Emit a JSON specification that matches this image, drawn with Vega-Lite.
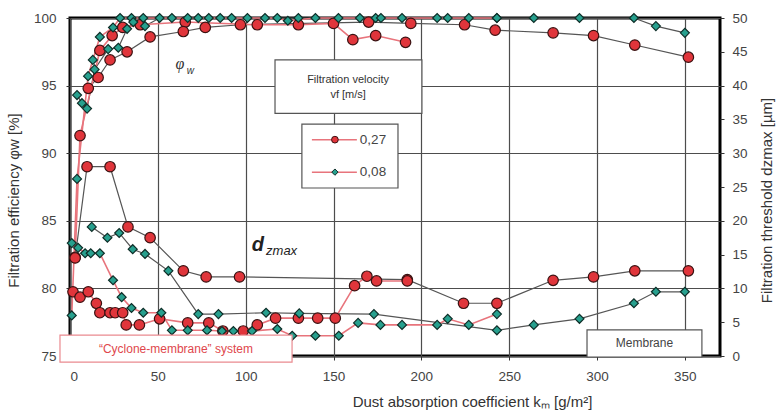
{
"$schema":"https://vega.github.io/schema/vega-lite/v6.json",
"width":650,"height":338,
"autosize":{"type":"none"},
"padding":{"left":70,"top":18,"right":61,"bottom":59},
"background":"white",
"config":{
 "view":{"stroke":"#000","strokeWidth":3},
 "font":"Liberation Sans",
 "axis":{"labelFont":"Liberation Sans","titleFont":"Liberation Sans","labelColor":"#444","titleColor":"#333","labelFontSize":13.5,"titleFontSize":15,"titleFontWeight":"normal","tickColor":"#333","domain":false,"gridColor":"#4d4d4d","gridWidth":1.2,"gridOpacity":1}
},
"datasets":{
 "eff":[
  {"k":2.9,"v":82.3,"s":"c27","sys":"c","vel":"0,27"},{"k":5.7,"v":91.3,"s":"c27","sys":"c","vel":"0,27"},{"k":17,"v":97.6,"s":"c27","sys":"c","vel":"0,27"},{"k":24,"v":98.7,"s":"c27","sys":"c","vel":"0,27"},{"k":30,"v":99.3,"s":"c27","sys":"c","vel":"0,27"},{"k":40,"v":99.5,"s":"c27","sys":"c","vel":"0,27"},{"k":65.6,"v":99.7,"s":"c27","sys":"c","vel":"0,27"},{"k":106.6,"v":99.5,"s":"c27","sys":"c","vel":"0,27"},{"k":130,"v":99.5,"s":"c27","sys":"c","vel":"0,27"},{"k":150,"v":99.6,"s":"c27","sys":"c","vel":"0,27"},{"k":161,"v":98.4,"s":"c27","sys":"c","vel":"0,27"},{"k":174,"v":98.7,"s":"c27","sys":"c","vel":"0,27"},{"k":191,"v":98.2,"s":"c27","sys":"c","vel":"0,27"},
  {"k":10.4,"v":94.8,"s":"m27","sys":"m","vel":"0,27"},{"k":16,"v":95.6,"s":"m27","sys":"m","vel":"0,27"},{"k":22.8,"v":96.9,"s":"m27","sys":"m","vel":"0,27"},{"k":32.5,"v":97.5,"s":"m27","sys":"m","vel":"0,27"},{"k":45.6,"v":98.6,"s":"m27","sys":"m","vel":"0,27"},{"k":64.5,"v":99.0,"s":"m27","sys":"m","vel":"0,27"},{"k":77,"v":99.3,"s":"m27","sys":"m","vel":"0,27"},{"k":97,"v":99.5,"s":"m27","sys":"m","vel":"0,27"},{"k":170,"v":99.7,"s":"m27","sys":"m","vel":"0,27"},{"k":194,"v":99.6,"s":"m27","sys":"m","vel":"0,27"},{"k":224.6,"v":99.5,"s":"m27","sys":"m","vel":"0,27"},{"k":242,"v":99.1,"s":"m27","sys":"m","vel":"0,27"},{"k":275,"v":98.9,"s":"m27","sys":"m","vel":"0,27"},{"k":298,"v":98.7,"s":"m27","sys":"m","vel":"0,27"},{"k":321.5,"v":98.0,"s":"m27","sys":"m","vel":"0,27"},{"k":352,"v":97.1,"s":"m27","sys":"m","vel":"0,27"},
  {"k":1,"v":78.0,"s":"c08","sys":"c","vel":"0,08"},{"k":4,"v":88.1,"s":"c08","sys":"c","vel":"0,08"},{"k":10.3,"v":95.7,"s":"c08","sys":"c","vel":"0,08"},{"k":13,"v":96.9,"s":"c08","sys":"c","vel":"0,08"},{"k":17,"v":98.6,"s":"c08","sys":"c","vel":"0,08"},{"k":24.5,"v":99.3,"s":"c08","sys":"c","vel":"0,08"},{"k":28.5,"v":100,"s":"c08","sys":"c","vel":"0,08"},{"k":35,"v":100,"s":"c08","sys":"c","vel":"0,08"},{"k":41.7,"v":100,"s":"c08","sys":"c","vel":"0,08"},{"k":58,"v":100,"s":"c08","sys":"c","vel":"0,08"},{"k":73,"v":100,"s":"c08","sys":"c","vel":"0,08"},{"k":79,"v":100,"s":"c08","sys":"c","vel":"0,08"},{"k":92,"v":100,"s":"c08","sys":"c","vel":"0,08"},{"k":101,"v":100,"s":"c08","sys":"c","vel":"0,08"},{"k":118,"v":100,"s":"c08","sys":"c","vel":"0,08"},{"k":124,"v":99.8,"s":"c08","sys":"c","vel":"0,08"},{"k":139.7,"v":100,"s":"c08","sys":"c","vel":"0,08"},{"k":152.8,"v":100,"s":"c08","sys":"c","vel":"0,08"},{"k":174,"v":100,"s":"c08","sys":"c","vel":"0,08"},{"k":177,"v":100,"s":"c08","sys":"c","vel":"0,08"},{"k":209,"v":100,"s":"c08","sys":"c","vel":"0,08"},{"k":227,"v":100,"s":"c08","sys":"c","vel":"0,08"},{"k":243,"v":100,"s":"c08","sys":"c","vel":"0,08"},
  {"k":4,"v":94.3,"s":"m08","sys":"m","vel":"0,08"},{"k":6.8,"v":93.7,"s":"m08","sys":"m","vel":"0,08"},{"k":9.7,"v":93.3,"s":"m08","sys":"m","vel":"0,08"},{"k":14,"v":96.2,"s":"m08","sys":"m","vel":"0,08"},{"k":21.7,"v":97.7,"s":"m08","sys":"m","vel":"0,08"},{"k":27.5,"v":97.8,"s":"m08","sys":"m","vel":"0,08"},{"k":32.5,"v":99.2,"s":"m08","sys":"m","vel":"0,08"},{"k":36,"v":99.7,"s":"m08","sys":"m","vel":"0,08"},{"k":42.7,"v":99.4,"s":"m08","sys":"m","vel":"0,08"},{"k":51,"v":100,"s":"m08","sys":"m","vel":"0,08"},{"k":67,"v":100,"s":"m08","sys":"m","vel":"0,08"},{"k":85.5,"v":100,"s":"m08","sys":"m","vel":"0,08"},{"k":111,"v":100,"s":"m08","sys":"m","vel":"0,08"},{"k":130,"v":100,"s":"m08","sys":"m","vel":"0,08"},{"k":165,"v":100,"s":"m08","sys":"m","vel":"0,08"},{"k":189,"v":100,"s":"m08","sys":"m","vel":"0,08"},{"k":215,"v":100,"s":"m08","sys":"m","vel":"0,08"},{"k":243,"v":100,"s":"m08","sys":"m","vel":"0,08"},{"k":264,"v":100,"s":"m08","sys":"m","vel":"0,08"},{"k":290,"v":100,"s":"m08","sys":"m","vel":"0,08"},{"k":321,"v":100,"s":"m08","sys":"m","vel":"0,08"},{"k":333.5,"v":99.4,"s":"m08","sys":"m","vel":"0,08"},{"k":350,"v":98.9,"s":"m08","sys":"m","vel":"0,08"}
 ],
 "dz":[
  {"k":2.9,"v":14.5,"s":"m27","sys":"m","vel":"0,27"},{"k":9.7,"v":28,"s":"m27","sys":"m","vel":"0,27"},{"k":22.8,"v":28,"s":"m27","sys":"m","vel":"0,27"},{"k":33,"v":19.1,"s":"m27","sys":"m","vel":"0,27"},{"k":45.6,"v":17.5,"s":"m27","sys":"m","vel":"0,27"},{"k":64.5,"v":12.6,"s":"m27","sys":"m","vel":"0,27"},{"k":77.5,"v":11.7,"s":"m27","sys":"m","vel":"0,27"},{"k":96.5,"v":11.7,"s":"m27","sys":"m","vel":"0,27"},{"k":192,"v":11.3,"s":"m27","sys":"m","vel":"0,27"},{"k":224,"v":7.8,"s":"m27","sys":"m","vel":"0,27"},{"k":243,"v":7.8,"s":"m27","sys":"m","vel":"0,27"},{"k":275,"v":11.2,"s":"m27","sys":"m","vel":"0,27"},{"k":298,"v":11.7,"s":"m27","sys":"m","vel":"0,27"},{"k":321.5,"v":12.6,"s":"m27","sys":"m","vel":"0,27"},{"k":352,"v":12.6,"s":"m27","sys":"m","vel":"0,27"},
  {"k":1.7,"v":9.5,"s":"c27","sys":"c","vel":"0,27"},{"k":5.7,"v":8.7,"s":"c27","sys":"c","vel":"0,27"},{"k":10.4,"v":9.5,"s":"c27","sys":"c","vel":"0,27"},{"k":15,"v":7.8,"s":"c27","sys":"c","vel":"0,27"},{"k":17,"v":6.4,"s":"c27","sys":"c","vel":"0,27"},{"k":22.8,"v":6.4,"s":"c27","sys":"c","vel":"0,27"},{"k":25.7,"v":6.4,"s":"c27","sys":"c","vel":"0,27"},{"k":30,"v":6.4,"s":"c27","sys":"c","vel":"0,27"},{"k":32,"v":4.6,"s":"c27","sys":"c","vel":"0,27"},{"k":39.5,"v":4.6,"s":"c27","sys":"c","vel":"0,27"},{"k":51,"v":5.5,"s":"c27","sys":"c","vel":"0,27"},{"k":67,"v":4.9,"s":"c27","sys":"c","vel":"0,27"},{"k":79,"v":4.9,"s":"c27","sys":"c","vel":"0,27"},{"k":87,"v":3.7,"s":"c27","sys":"c","vel":"0,27"},{"k":98.6,"v":3.7,"s":"c27","sys":"c","vel":"0,27"},{"k":106.6,"v":4.6,"s":"c27","sys":"c","vel":"0,27"},{"k":117,"v":5.6,"s":"c27","sys":"c","vel":"0,27"},{"k":130,"v":5.6,"s":"c27","sys":"c","vel":"0,27"},{"k":141,"v":5.6,"s":"c27","sys":"c","vel":"0,27"},{"k":151,"v":5.6,"s":"c27","sys":"c","vel":"0,27"},{"k":162,"v":10.4,"s":"c27","sys":"c","vel":"0,27"},{"k":169,"v":11.8,"s":"c27","sys":"c","vel":"0,27"},{"k":174.5,"v":11.1,"s":"c27","sys":"c","vel":"0,27"},{"k":192,"v":11.1,"s":"c27","sys":"c","vel":"0,27"},
  {"k":12.4,"v":19.1,"s":"m08","sys":"m","vel":"0,08"},{"k":21.3,"v":17.5,"s":"m08","sys":"m","vel":"0,08"},{"k":28,"v":18.2,"s":"m08","sys":"m","vel":"0,08"},{"k":35.7,"v":15.8,"s":"m08","sys":"m","vel":"0,08"},{"k":42.7,"v":15.1,"s":"m08","sys":"m","vel":"0,08"},{"k":56,"v":12.6,"s":"m08","sys":"m","vel":"0,08"},{"k":73,"v":6.2,"s":"m08","sys":"m","vel":"0,08"},{"k":84.5,"v":6.2,"s":"m08","sys":"m","vel":"0,08"},{"k":111.6,"v":6.4,"s":"m08","sys":"m","vel":"0,08"},{"k":130.5,"v":6.3,"s":"m08","sys":"m","vel":"0,08"},{"k":173,"v":6.2,"s":"m08","sys":"m","vel":"0,08"},{"k":243,"v":3.8,"s":"m08","sys":"m","vel":"0,08"},{"k":264,"v":4.6,"s":"m08","sys":"m","vel":"0,08"},{"k":290,"v":5.5,"s":"m08","sys":"m","vel":"0,08"},{"k":321,"v":7.8,"s":"m08","sys":"m","vel":"0,08"},{"k":333.5,"v":9.5,"s":"m08","sys":"m","vel":"0,08"},{"k":350,"v":9.5,"s":"m08","sys":"m","vel":"0,08"},
  {"k":1,"v":16.7,"s":"c08","sys":"c","vel":"0,08"},{"k":4.6,"v":16,"s":"c08","sys":"c","vel":"0,08"},{"k":8.6,"v":15.2,"s":"c08","sys":"c","vel":"0,08"},{"k":11.8,"v":15.2,"s":"c08","sys":"c","vel":"0,08"},{"k":17,"v":15.2,"s":"c08","sys":"c","vel":"0,08"},{"k":24.5,"v":11.2,"s":"c08","sys":"c","vel":"0,08"},{"k":29.4,"v":8.7,"s":"c08","sys":"c","vel":"0,08"},{"k":35,"v":7.1,"s":"c08","sys":"c","vel":"0,08"},{"k":41.7,"v":6.4,"s":"c08","sys":"c","vel":"0,08"},{"k":52,"v":6.4,"s":"c08","sys":"c","vel":"0,08"},{"k":58,"v":3.8,"s":"c08","sys":"c","vel":"0,08"},{"k":67,"v":3.8,"s":"c08","sys":"c","vel":"0,08"},{"k":78,"v":3.8,"s":"c08","sys":"c","vel":"0,08"},{"k":86.5,"v":3.7,"s":"c08","sys":"c","vel":"0,08"},{"k":93,"v":3.7,"s":"c08","sys":"c","vel":"0,08"},{"k":103.6,"v":3.7,"s":"c08","sys":"c","vel":"0,08"},{"k":118,"v":4,"s":"c08","sys":"c","vel":"0,08"},{"k":126.5,"v":3,"s":"c08","sys":"c","vel":"0,08"},{"k":139.7,"v":3,"s":"c08","sys":"c","vel":"0,08"},{"k":153,"v":3,"s":"c08","sys":"c","vel":"0,08"},{"k":164,"v":4.9,"s":"c08","sys":"c","vel":"0,08"},{"k":176.7,"v":4.6,"s":"c08","sys":"c","vel":"0,08"},{"k":189,"v":4.6,"s":"c08","sys":"c","vel":"0,08"},{"k":209,"v":4.6,"s":"c08","sys":"c","vel":"0,08"},{"k":215,"v":5.5,"s":"c08","sys":"c","vel":"0,08"},{"k":227,"v":4.6,"s":"c08","sys":"c","vel":"0,08"},{"k":243,"v":6.2,"s":"c08","sys":"c","vel":"0,08"}
 ]
},
"encoding":{
 "x":{"field":"k","type":"quantitative","scale":{"domain":[0,370],"nice":false},"axis":{"values":[0,50,100,150,200,250,300,350],"title":"Dust absorption coefficient kₘ [g/m²]","tickSize":4,"labelPadding":9,"titlePadding":12,"titleX":402,"grid":true}}
},
"layer":[
 {"data":{"name":"eff"},
  "encoding":{
   "y":{"field":"v","type":"quantitative","scale":{"domain":[75,100],"nice":false,"zero":false},"axis":{"values":[75,80,85,90,95,100],"title":"Filtration efficiency φw [%]","tickSize":4,"labelPadding":10,"titlePadding":12,"titleY":182,"grid":true}}
  },
  "layer":[
   {"transform":[{"filter":"datum.sys==='m'"}],"mark":{"type":"line","color":"#555","strokeWidth":1.2},"encoding":{"detail":{"field":"s"}}},
   {"transform":[{"filter":"datum.sys==='c'"}],"mark":{"type":"line","color":"#e8747c","strokeWidth":1.6},"encoding":{"detail":{"field":"s"}}},
   {"transform":[{"filter":"datum.vel==='0,27'"}],"mark":{"type":"point","shape":"circle","filled":true,"fill":"#e0353b","stroke":"#3a1212","strokeWidth":1.2,"size":110,"opacity":1}},
   {"transform":[{"filter":"datum.vel==='0,08'"}],"mark":{"type":"point","shape":"diamond","filled":true,"fill":"#27a08e","stroke":"#0e2e28","strokeWidth":1.2,"size":80,"opacity":1}}
  ]},
 {"encoding":{
   "y":{"field":"v","type":"quantitative","scale":{"domain":[0,50],"nice":false},"axis":{"orient":"right","values":[0,5,10,15,20,25,30,35,40,45,50],"title":"Filtration threshold dzmax [µm]","grid":false,"tickSize":4,"labelPadding":8,"titlePadding":12,"titleAngle":270,"titleBaseline":"top","titleY":182}}
  },
  "layer":[
   {"data":{"name":"dz"},"transform":[{"filter":"datum.sys==='m'"}],"mark":{"type":"line","color":"#555","strokeWidth":1.2},"encoding":{"detail":{"field":"s"}}},
   {"data":{"name":"dz"},"transform":[{"filter":"datum.sys==='c'"}],"mark":{"type":"line","color":"#e8747c","strokeWidth":1.6},"encoding":{"detail":{"field":"s"}}},
   {"data":{"name":"dz"},"transform":[{"filter":"datum.vel==='0,27'"}],"mark":{"type":"point","shape":"circle","filled":true,"fill":"#e0353b","stroke":"#3a1212","strokeWidth":1.2,"size":110,"opacity":1}},
   {"data":{"name":"dz"},"transform":[{"filter":"datum.vel==='0,08'"}],"mark":{"type":"point","shape":"diamond","filled":true,"fill":"#27a08e","stroke":"#0e2e28","strokeWidth":1.2,"size":80,"opacity":1}},
   {"data":{"values":[{"k":116.7,"k2":200.3,"v":35.9,"v2":43.8},{"k":132,"k2":186.7,"v":24.85,"v2":34.3},{"k":294.3,"k2":359.7,"v":-0.15,"v2":3.85}]},
    "mark":{"type":"rect","fill":"white","stroke":"#555","strokeWidth":1.2},
    "encoding":{"x2":{"field":"k2"},"y2":{"field":"v2"}}},
   {"data":{"values":[{"k":-5.7,"k2":126.4,"v":-0.9,"v2":3.1}]},
    "mark":{"type":"rect","fill":"white","stroke":"#ea8a90","strokeWidth":1.2},
    "encoding":{"x2":{"field":"k2"},"y2":{"field":"v2"}}},
   {"data":{"values":[{"k":137.7,"k2":163.3,"v":32.0},{"k":137.7,"k2":163.3,"v":27.2}]},
    "mark":{"type":"rule","color":"#e8747c","strokeWidth":1.5},
    "encoding":{"x2":{"field":"k2"}}},
   {"data":{"values":[{"k":150.8,"v":32.0}]},
    "mark":{"type":"point","shape":"circle","filled":true,"fill":"#e0353b","stroke":"#3a1212","strokeWidth":1,"size":45,"opacity":1}},
   {"data":{"values":[{"k":150.8,"v":27.2}]},
    "mark":{"type":"point","shape":"diamond","filled":true,"fill":"#27a08e","stroke":"#0e2e28","strokeWidth":1,"size":40,"opacity":1}},
   {"data":{"values":[{"k":165,"v":32.0,"t":"0,27"},{"k":165,"v":27.2,"t":"0,08"}]},
    "mark":{"type":"text","align":"left","baseline":"middle","fontSize":13.5,"color":"#444","font":"Liberation Sans"},
    "encoding":{"text":{"field":"t"}}},
   {"data":{"values":[{"k":158.3,"v":40.8,"t":"Filtration velocity"},{"k":158.3,"v":38.6,"t":"vf [m/s]"}]},
    "mark":{"type":"text","align":"center","baseline":"middle","fontSize":11,"color":"#333","font":"Liberation Sans"},
    "encoding":{"text":{"field":"t"}}},
   {"data":{"values":[{"k":60.3,"v":1.0,"t":"“Cyclone-membrane” system"}]},
    "mark":{"type":"text","align":"center","baseline":"middle","fontSize":12,"color":"#e0474c","font":"Liberation Sans"},
    "encoding":{"text":{"field":"t"}}},
   {"data":{"values":[{"k":327,"v":1.85,"t":"Membrane"}]},
    "mark":{"type":"text","align":"center","baseline":"middle","fontSize":12,"color":"#444","font":"Liberation Sans"},
    "encoding":{"text":{"field":"t"}}},
   {"data":{"values":[{"k":62.6,"v":43.2,"t":"φ"}]},
    "mark":{"type":"text","align":"center","baseline":"middle","fontSize":16,"fontStyle":"italic","color":"#333","font":"Liberation Serif"},
    "encoding":{"text":{"field":"t"}}},
   {"data":{"values":[{"k":66.5,"v":42.2,"t":"w"}]},
    "mark":{"type":"text","align":"left","baseline":"middle","fontSize":10,"fontStyle":"italic","color":"#333","font":"Liberation Sans"},
    "encoding":{"text":{"field":"t"}}},
   {"data":{"values":[{"k":107,"v":16.4,"t":"d"}]},
    "mark":{"type":"text","align":"center","baseline":"middle","fontSize":20,"fontStyle":"italic","fontWeight":"bold","color":"#222","font":"Liberation Sans"},
    "encoding":{"text":{"field":"t"}}},
   {"data":{"values":[{"k":111.6,"v":15.5,"t":"zmax"}]},
    "mark":{"type":"text","align":"left","baseline":"middle","fontSize":13,"fontStyle":"italic","color":"#222","font":"Liberation Sans"},
    "encoding":{"text":{"field":"t"}}}
 ]}
],
"resolve":{"scale":{"y":"independent"}}
}
